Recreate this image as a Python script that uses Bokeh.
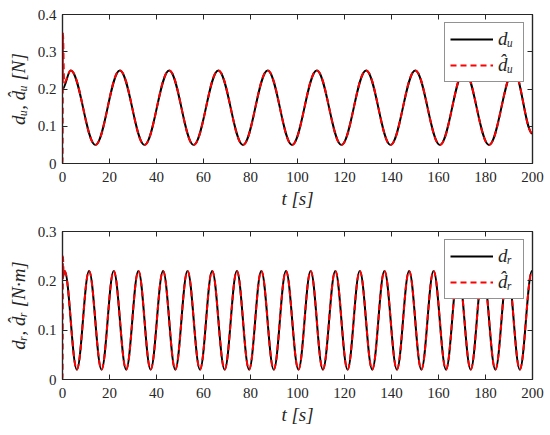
import numpy as np
from bokeh.plotting import figure
from bokeh.layouts import column
from bokeh.models import Range1d, FixedTicker, LinearAxis, Legend, LegendItem
from bokeh.embed import file_html
from bokeh.resources import INLINE

# ---------------- data ----------------
t_ticks = [0, 20, 40, 60, 80, 100, 120, 140, 160, 180, 200]
t_tick_labels = ["0", "20", "40", "60", "80", "100", "120", "140", "160", "180", "200"]
du_ticks = [0, 0.1, 0.2, 0.3, 0.4]
du_tick_labels = ["0", "0.1", "0.2", "0.3", "0.4"]
dr_ticks = [0, 0.1, 0.2, 0.3]
dr_tick_labels = ["0", "0.1", "0.2", "0.3"]

# d_u: start value, successive peaks / troughs, end value  (t [s], d_u [N])
du_t = [0.0, 3.5, 14.0, 24.4, 34.9, 45.4, 55.8, 66.3, 76.8, 87.3, 97.7,
        108.2, 118.7, 129.2, 139.6, 150.1, 160.6, 171.0, 181.5, 192.0, 200.0]
du_v = [0.20, 0.25, 0.05, 0.25, 0.05, 0.25, 0.05, 0.25, 0.05, 0.25, 0.05,
        0.25, 0.05, 0.25, 0.05, 0.25, 0.05, 0.25, 0.05, 0.25, 0.08]
# estimate \hat d_u: initial transient, then it follows d_u
du_hat_start_t = [0.0, 0.2, 0.7]
du_hat_start_v = [0.0, 0.35, 0.217]

# d_r: start value, successive peaks / troughs, end value  (t [s], d_r [N.m])
dr_t = [0.0, 0.9, 6.1, 11.3, 16.6, 21.8, 27.1, 32.3, 37.5, 42.8, 48.0,
        53.2, 58.5, 63.7, 69.0, 74.2, 79.4, 84.6, 89.9, 95.1, 100.4,
        105.6, 110.8, 116.1, 121.3, 126.5, 131.8, 137.0, 142.3, 147.5, 152.7,
        157.9, 163.2, 168.4, 173.7, 178.9, 184.2, 189.4, 194.6, 199.8, 200.0]
dr_v = [0.205, 0.22, 0.02, 0.22, 0.02, 0.22, 0.02, 0.22, 0.02, 0.22, 0.02,
        0.22, 0.02, 0.22, 0.02, 0.22, 0.02, 0.22, 0.02, 0.22, 0.02,
        0.22, 0.02, 0.22, 0.02, 0.22, 0.02, 0.22, 0.02, 0.22, 0.02,
        0.22, 0.02, 0.22, 0.02, 0.22, 0.02, 0.22, 0.02, 0.22, 0.22]
# estimate \hat d_r: initial transient, then it follows d_r
dr_hat_start_t = [0.0, 0.2, 0.5]
dr_hat_start_v = [0.0, 0.25, 0.213]

# ---------------- styling ----------------
FONT = "Liberation Serif"
AX = "#262626"
K = 0.3634  # Bezier handle fraction giving a cosine-like half wave


def smooth(p, tk, vk, **kw):
    tk = np.asarray(tk, dtype=float)
    vk = np.asarray(vk, dtype=float)
    dt = np.diff(tk)
    return p.bezier(x0=tk[:-1], y0=vk[:-1], x1=tk[1:], y1=vk[1:],
                    cx0=tk[:-1] + K * dt, cy0=vk[:-1],
                    cx1=tk[1:] - K * dt, cy1=vk[1:], **kw)


def style_axis(ax, ticks, labels, show_labels=True):
    ax.ticker = FixedTicker(ticks=ticks)
    if show_labels:
        ax.major_label_overrides = {v: s for v, s in zip(ticks, labels)}
    else:
        ax.major_label_overrides = {v: "" for v in ticks}
        ax.major_label_standoff = 0
    ax.major_tick_in = 5
    ax.major_tick_out = 0
    ax.minor_tick_line_color = None
    ax.major_tick_line_color = AX
    ax.major_tick_line_width = 1
    ax.axis_line_color = AX
    ax.axis_line_width = 1.2
    ax.major_label_text_font = FONT
    ax.major_label_text_font_size = "15px"
    ax.major_label_text_color = AX
    ax.axis_label_text_font = FONT
    ax.axis_label_text_font_size = "19px"
    ax.axis_label_text_font_style = "italic"
    ax.axis_label_text_color = AX


def make_panel(height, border_top, border_bottom, yr, yticks, ylabels,
               ylabel, t_k, v_k, th_t, th_v, lab, lab_hat):
    p = figure(width=545, height=height, output_backend="svg",
               toolbar_location=None, x_range=Range1d(0, 200), y_range=Range1d(*yr),
               min_border_left=62, min_border_right=13,
               min_border_top=border_top, min_border_bottom=border_bottom,
               x_axis_label="t [s]", y_axis_label=ylabel)
    p.grid.visible = False
    p.outline_line_color = AX
    p.outline_line_width = 1.2
    p.background_fill_color = "white"
    p.border_fill_color = "white"

    style_axis(p.xaxis[0], t_ticks, t_tick_labels)
    style_axis(p.yaxis[0], yticks, ylabels)
    p.xaxis[0].major_label_standoff = 8
    p.xaxis[0].axis_label_standoff = 3
    p.yaxis[0].major_label_standoff = 6
    p.yaxis[0].axis_label_standoff = 6

    top = LinearAxis()
    style_axis(top, t_ticks, t_tick_labels, show_labels=False)
    right = LinearAxis()
    style_axis(right, yticks, ylabels, show_labels=False)
    p.add_layout(top, "above")
    p.add_layout(right, "right")

    r_true = smooth(p, t_k, v_k, line_color="black", line_width=2)
    hat_t = list(th_t) + list(t_k[1:])
    hat_v = list(th_v) + list(v_k[1:])
    r_hat = smooth(p, hat_t, hat_v, line_color="#ff0000", line_width=2,
                   line_dash="6 4")

    leg = Legend(items=[LegendItem(label=lab, renderers=[r_true]),
                        LegendItem(label=lab_hat, renderers=[r_hat])],
                 location="top_right")
    leg.margin = 8
    leg.padding = 5
    leg.spacing = 4
    leg.glyph_width = 43
    leg.glyph_height = 22
    leg.label_height = 22
    leg.label_standoff = 5
    leg.label_text_font = FONT
    leg.label_text_font_size = "19px"
    leg.label_text_font_style = "italic"
    leg.label_text_color = AX
    leg.border_line_color = AX
    leg.border_line_width = 1.2
    leg.background_fill_color = "white"
    leg.background_fill_alpha = 1.0
    p.add_layout(leg)
    return p


p1 = make_panel(215, 14, 52, (0, 0.4), du_ticks, du_tick_labels,
                "dᵤ, d̂ᵤ [N]", du_t, du_v, du_hat_start_t, du_hat_start_v,
                "dᵤ", "d̂ᵤ")
p2 = make_panel(218, 16, 54, (0, 0.3), dr_ticks, dr_tick_labels,
                "dᵣ, d̂ᵣ [N·m]", dr_t, dr_v, dr_hat_start_t, dr_hat_start_v,
                "dᵣ", "d̂ᵣ")

layout = column(p1, p2, spacing=0)
open("out.html", "w").write(file_html(layout, INLINE))
